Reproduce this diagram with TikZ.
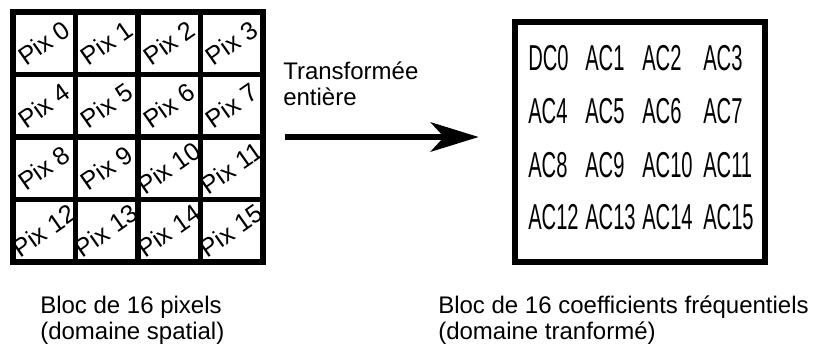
\documentclass[tikz,border=0pt]{standalone}
\usepackage{fontspec}
\setmainfont{Liberation Sans}
\newfontfamily\etroite[FakeStretch=0.56]{Liberation Sans}
\usetikzlibrary{arrows.meta}

\tikzset{
  bloc/.style={draw, line width=4.5pt, inner sep=0pt},
  pix/.style={rotate=35, inner sep=0pt, font=\fontsize{19}{21}\selectfont},
  coef/.style={anchor=west, inner sep=0pt, font=\etroite\fontsize{27}{30}\selectfont},
  legende/.style={anchor=base west, inner sep=0pt, align=left, font=\fontsize{18}{19.5}\selectfont},
  fleche/.style={line width=4.5pt, -{Stealth[length=36pt,width=22pt,inset=10pt]}}
}

\begin{document}
\begin{tikzpicture}[x=0.75pt, y=-0.75pt]
    \useasboundingbox (0,0) rectangle (823,350);

    % Bloc de pixels
    \node[bloc, minimum width=187.5pt, minimum height=187.5pt] (pixbloc) at (138,137) {};
    \foreach \k in {1,2,3} {
        \draw[line width=4pt] (13+62.5*\k,12) -- (13+62.5*\k,262);
        \draw[line width=4pt] (13,12+62.5*\k) -- (263,12+62.5*\k);
    }
    \foreach \n in {0,...,15} {
        \pgfmathtruncatemacro{\col}{mod(\n,4)}
        \pgfmathtruncatemacro{\lig}{div(\n,4)}
        \node[pix] (pix\n) at (44+62.5*\col,43+62.5*\lig) {Pix \n};
    }

    % Bloc de coefficients
    \node[bloc, minimum width=187.5pt, minimum height=180pt] (coefbloc) at (640,142) {};
    \foreach \nom [count=\n from 0] in {DC0,AC1,AC2,AC3,AC4,AC5,AC6,AC7,AC8,AC9,AC10,AC11,AC12,AC13,AC14,AC15} {
        \pgfmathtruncatemacro{\col}{mod(\n,4)}
        \pgfmathtruncatemacro{\lig}{div(\n,4)}
        \pgfmathsetmacro{\xc}{{528,585,642,703}[\col]}
        \pgfmathsetmacro{\yc}{{58,111,165,217}[\lig]}
        \node[coef] (coef\n) at (\xc,\yc) {\nom};
    }

    % Transformation
    \draw[fleche, shorten <=14pt, shorten >=25pt] (pixbloc.east) -- (pixbloc.east -| coefbloc.west);
    \node[legende] (transfo) at (283,105) {Transformée\\entière};

    % Legendes
    \node[legende] (legpix) at (40,339) {Bloc de 16 pixels\\(domaine spatial)};
    \node[legende] (legcoef) at (438,339) {Bloc de 16 coefficients fréquentiels\\(domaine tranformé)};
\end{tikzpicture}
\end{document}
